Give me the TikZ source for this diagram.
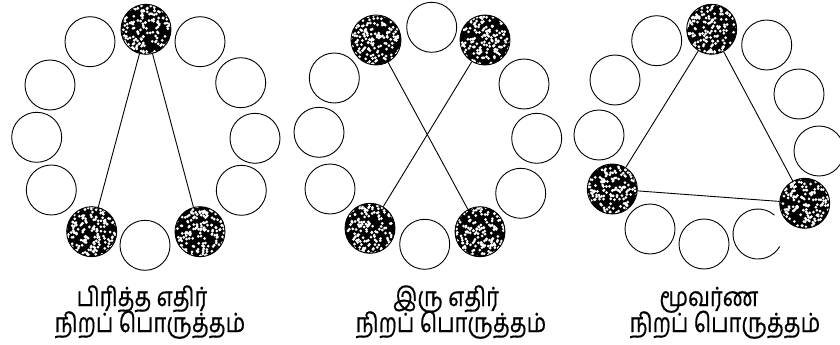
\documentclass[tikz,border=0pt]{standalone}
\usepackage{fontspec}
\newfontfamily\tamil[Script=Tamil,FakeBold=0.6]{Hind Madurai}
\newcommand{\tmtext}[1]{\scalebox{1}[1.2]{#1}}
\begin{document}
\begin{tikzpicture}[x=1pt,y=-1pt,
  ring/.style={circle, draw=black, line width=0.9pt, minimum size=50pt, inner sep=0pt},
  dark/.style={ring, fill=black, path picture={%
    \foreach \i in {1,...,210}{%
      \pgfmathsetmacro\rx{rnd*54-27}%
      \pgfmathsetmacro\ry{rnd*54-27}%
      \fill[white] ([shift={(\rx,\ry)}]path picture bounding box.center) circle (1.5);}}},
  link/.style={line width=0.9pt},
  lbl/.style={font=\tamil\fontsize{22}{26}\selectfont, inner sep=0pt, anchor=base}]
\pgfmathsetseed{7}
\useasboundingbox (0,0) rectangle (840,345);
\fill[white] (0,0) rectangle (840,345);
% wheel 1: split complementary
\node[dark] (a1) at (146,29.3) {};
\node[ring] (a2) at (200,41.7) {};
\node[ring] (a3) at (240.7,82.7) {};
\node[ring] (a4) at (255,138.3) {};
\node[ring] (a5) at (241.3,190.3) {};
\node[dark] (a6) at (200,231.7) {};
\node[ring] (a7) at (145,245.3) {};
\node[dark] (a8) at (91.7,231.7) {};
\node[ring] (a9) at (51.3,190) {};
\node[ring] (a10) at (36.7,137.3) {};
\node[ring] (a11) at (50,85) {};
\node[ring] (a12) at (90,41.7) {};
\draw[link] (a1) -- (a8);
\draw[link] (a1) -- (a6);
% wheel 2: double complementary
\node[ring] (b1) at (431.7,27.3) {};
\node[dark] (b2) at (485,40) {};
\node[ring] (b3) at (524,84) {};
\node[ring] (b4) at (536.7,138.3) {};
\node[ring] (b5) at (520.7,193.3) {};
\node[dark] (b6) at (480,231.7) {};
\node[ring] (b7) at (424.7,244.3) {};
\node[dark] (b8) at (370,228.3) {};
\node[ring] (b9) at (330,189) {};
\node[ring] (b10) at (319,132.3) {};
\node[ring] (b11) at (334.3,78) {};
\node[dark] (b12) at (376,40) {};
\draw[link] (b12) -- (b6);
\draw[link] (b2) -- (b8);
% wheel 3: triad
\node[dark] (c1) at (711.7,29.3) {};
\node[ring] (c2) at (766.7,45) {};
\node[ring] (c3) at (799,94) {};
\node[ring] (c4) at (819,151) {};
\node[dark] (c5) at (804.7,203.3) {};
\coordinate (c6) at (758,234);
\draw[line width=0.9pt] (c6) ++(-49:25) arc[start angle=-49, end angle=-330, radius=25];
\node[ring] (c7) at (704,244) {};
\node[ring] (c8) at (650,229) {};
\node[dark] (c9) at (612.3,189) {};
\node[ring] (c10) at (599,135) {};
\node[ring] (c11) at (615,80) {};
\node[ring] (c12) at (656.7,40.7) {};
\draw[link] (c1) -- (c9);
\draw[link] (c1) -- (c5);
\draw[link] (c9) -- (c5);
% labels
\node[lbl] (t1a) at (142,306) {\tmtext{பிரித்த எதிர்}};
\node[lbl] (t1b) at (150,332) {\tmtext{நிறப் பொருத்தம்}};
\node[lbl] (t2a) at (446,306) {\tmtext{இரு எதிர்}};
\node[lbl] (t2b) at (451,332) {\tmtext{நிறப் பொருத்தம்}};
\node[lbl] (t3a) at (709,306) {\tmtext{மூவர்ண}};
\node[lbl] (t3b) at (725,332) {\tmtext{நிறப் பொருத்தம்}};
\end{tikzpicture}
\end{document}
